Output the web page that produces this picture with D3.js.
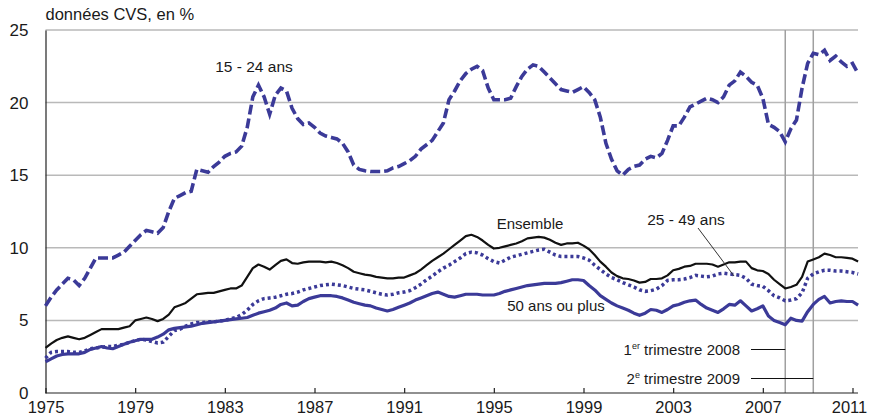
<!DOCTYPE html>
<html>
<head>
<meta charset="utf-8">
<script src="https://cdn.jsdelivr.net/npm/d3@7"></script>
<style>
  html, body { margin: 0; padding: 0; background: #ffffff; }
  svg text { font-family: "Liberation Sans Narrow", "Arial Narrow", "Liberation Sans", sans-serif; fill: #1a1a1a; }
</style>
</head>
<body>
<svg id="chart" width="869" height="418"></svg>
<script>
// ---- Data (quarterly, 1975 T1 .. 2011 T2), taux de chômage en % ----
const startYear = 1975;
const tickYears = ["1975","1979","1983","1987","1991","1995","1999","2003","2007","2011"];
const yTicks = [0, 5, 10, 15, 20, 25];

const jeunes15_24 = [
  6.0, 6.6, 7.1, 7.5,   7.9, 7.8, 7.4, 7.9,   8.6, 9.3, 9.3, 9.3,   9.3, 9.5, 9.7, 10.1,
  10.5, 10.9, 11.2, 11.1,   11.0, 11.4, 12.5, 13.4,   13.6, 13.8, 13.9, 15.4,   15.3, 15.2, 15.6, 15.9,
  16.3, 16.5, 16.6, 17.0,   18.3, 20.4, 21.2, 20.4,   19.2, 20.5, 21.0, 20.8,   19.6, 18.9, 18.5, 18.6,
  18.3, 17.9, 17.7, 17.6,   17.5, 17.2, 16.6, 15.7,   15.4, 15.3, 15.25, 15.25,   15.25, 15.3, 15.5, 15.6,
  15.8, 16.0, 16.3, 16.8,   17.1, 17.4, 18.0, 18.6,   20.2, 20.8, 21.5, 22.0,   22.3, 22.5, 22.2, 21.0,
  20.2, 20.2, 20.2, 20.3,   21.1, 21.8, 22.3, 22.6,   22.5, 22.1, 21.7, 21.3,   20.9, 20.8, 20.7, 20.9,
  21.1, 20.7, 20.2, 19.0,   17.2, 16.1, 15.3, 15.0,   15.4, 15.6, 15.7, 16.1,   16.3, 16.2, 16.5, 17.4,
  18.4, 18.4, 19.0, 19.7,   19.9, 20.1, 20.3, 20.2,   20.0, 20.4, 21.2, 21.5,   22.1, 21.8, 21.4, 21.2,
  20.3, 18.5, 18.3, 18.0,   17.3, 18.2, 18.8, 21.0,   22.7, 23.4, 23.3, 23.6,   22.9, 23.2, 22.8, 22.5,
  22.7, 22.0
];

const ensemble = [
  3.1, 3.4, 3.65, 3.8,   3.9, 3.8, 3.7, 3.8,   4.0, 4.2, 4.4, 4.4,   4.4, 4.4, 4.5, 4.6,
  5.0, 5.1, 5.2, 5.1,   4.95, 5.1, 5.4, 5.9,   6.05, 6.2, 6.5, 6.8,   6.85, 6.9, 6.9, 7.0,
  7.1, 7.2, 7.2, 7.4,   8.0, 8.6, 8.85, 8.7,   8.5, 8.8, 9.1, 9.2,   8.95, 8.9, 9.0, 9.05,
  9.05, 9.05, 9.0, 9.05,   8.95, 8.8, 8.6, 8.35,   8.25, 8.15, 8.1, 8.0,   7.95, 7.9, 7.9, 7.95,
  7.95, 8.1, 8.25, 8.5,   8.8, 9.1, 9.35, 9.6,   9.9, 10.2, 10.5, 10.8,   10.9, 10.75, 10.5, 10.2,
  9.95, 10.0, 10.1, 10.2,   10.3, 10.45, 10.65, 10.7,   10.75, 10.7, 10.55, 10.35,   10.2, 10.3, 10.3, 10.35,
  10.15, 9.9, 9.5, 9.05,   8.7, 8.3, 8.05, 7.9,   7.85, 7.75, 7.6, 7.65,   7.85, 7.85, 7.9, 8.1,
  8.45, 8.55, 8.7, 8.75,   8.9, 8.9, 8.9, 8.85,   8.7, 8.85, 9.0, 9.0,   9.05, 9.05, 8.6, 8.45,
  8.4, 8.2, 7.8, 7.5,   7.2, 7.3, 7.45, 8.0,   9.05, 9.2, 9.35, 9.6,   9.5, 9.35, 9.35, 9.3,
  9.25, 9.05
];

const adultes25_49 = [
  2.4, 2.8, 2.85, 2.85,   2.85, 2.8, 2.8, 2.9,   3.05, 3.1, 3.15, 3.2,   3.2, 3.3, 3.35, 3.5,
  3.6, 3.7, 3.65, 3.55,   3.45, 3.5, 3.9, 4.3,   4.4, 4.6, 4.75, 4.85,   4.85, 4.9, 4.9, 4.95,
  5.0, 5.1, 5.2, 5.4,   5.7, 6.1, 6.35, 6.5,   6.55, 6.6, 6.7, 6.8,   6.85, 6.95, 7.1, 7.2,
  7.3, 7.4, 7.45, 7.5,   7.45, 7.4, 7.3, 7.2,   7.15, 7.1, 7.0, 6.9,   6.8, 6.75, 6.8, 6.9,
  6.95, 7.05, 7.25, 7.5,   7.8, 8.05, 8.35, 8.6,   8.8, 9.05, 9.3, 9.6,   9.7, 9.65, 9.5, 9.25,
  9.05, 8.95, 9.15, 9.35,   9.45, 9.55, 9.65, 9.75,   9.85, 9.9, 9.7, 9.5,   9.4, 9.4, 9.4, 9.4,
  9.3, 9.15, 8.8, 8.5,   8.2, 7.95, 7.8, 7.6,   7.45, 7.3, 7.1, 7.0,   7.05, 7.15, 7.4, 7.75,
  7.8, 7.8, 7.85, 7.95,   8.1, 8.05, 8.0, 8.05,   8.2, 8.25, 8.2, 8.15,   8.1, 7.9, 7.5, 7.4,
  7.35, 7.05, 6.7, 6.55,   6.35, 6.4, 6.5, 6.9,   7.9, 8.2, 8.35, 8.45,   8.45, 8.4, 8.4, 8.35,
  8.3, 8.2
];

const seniors50plus = [
  2.15, 2.35, 2.55, 2.65,   2.7, 2.7, 2.7, 2.8,   3.0, 3.1, 3.2, 3.1,   3.05, 3.2, 3.35, 3.5,
  3.6, 3.7, 3.7, 3.7,   3.85, 4.05, 4.35, 4.45,   4.5, 4.55, 4.6, 4.7,   4.8, 4.85, 4.9, 4.95,
  5.0, 5.05, 5.1, 5.15,   5.2, 5.35, 5.5, 5.6,   5.7, 5.85, 6.1, 6.2,   6.0, 6.05, 6.3, 6.5,
  6.6, 6.7, 6.7, 6.7,   6.65, 6.55, 6.4, 6.25,   6.15, 6.05, 6.0, 5.85,   5.75, 5.65, 5.75, 5.9,
  6.05, 6.2, 6.4, 6.55,   6.7, 6.85, 6.95, 6.8,   6.65, 6.6, 6.7, 6.8,   6.8, 6.8, 6.75, 6.75,
  6.75, 6.85, 7.0, 7.1,   7.2, 7.3, 7.4, 7.45,   7.5, 7.55, 7.55, 7.55,   7.6, 7.7, 7.8, 7.8,
  7.75, 7.4, 7.1, 6.7,   6.45, 6.2, 6.0, 5.85,   5.7, 5.5, 5.35, 5.5,   5.75, 5.7, 5.55, 5.75,
  6.0, 6.1, 6.25, 6.35,   6.4, 6.1, 5.85, 5.7,   5.55, 5.8, 6.1, 6.05,   6.35, 6.0, 5.65, 5.8,
  6.0, 5.3, 5.0, 4.85,   4.7, 5.15, 5.0, 4.95,   5.6, 6.1, 6.45, 6.65,   6.2, 6.3, 6.35, 6.3,
  6.3, 6.05
];

const seriesLabels = ["15 - 24 ans", "Ensemble", "25 - 49 ans", "50 ans ou plus"];
const eventLabels = [["1", "er", " trimestre 2008"], ["2", "e", " trimestre 2009"]];
const eventTimes = [2008.0, 2009.25];
const yAxisTitle = "données CVS, en %";

// ---- Drawing ----
const svg = d3.select("#chart");
const blue = "#3b3a98";
const mLeft = 45.5, mRight = 858, mTop = 30, mBottom = 393;
const narrow = '"Liberation Sans Narrow", "Arial Narrow", sans-serif';

const x = d3.scaleLinear().domain([1975, 2011]).range([mLeft, 852.5]);
const y = d3.scaleLinear().domain([0, 25]).range([mBottom, mTop]);
const qTime = i => startYear + i / 4;

// gridlines
svg.append("g").selectAll("line")
  .data(yTicks.filter(v => v > 0))
  .join("line")
  .attr("x1", mLeft).attr("x2", mRight)
  .attr("y1", d => y(d)).attr("y2", d => y(d))
  .attr("stroke", "#b9b9b9").attr("stroke-width", 1.5);

// event vertical lines
svg.append("g").selectAll("line")
  .data(eventTimes)
  .join("line")
  .attr("x1", d => x(d)).attr("x2", d => x(d))
  .attr("y1", mTop).attr("y2", mBottom)
  .attr("stroke", "#a0a0a0").attr("stroke-width", 1.5);

// y axis
const yAxis = d3.axisLeft(y).tickValues(yTicks).tickSize(0).tickPadding(17);
const gy = svg.append("g").attr("transform", `translate(${mLeft},0)`).call(yAxis);
gy.select(".domain").attr("stroke", "#222").attr("stroke-width", 1.2);
gy.selectAll("text").attr("font-size", 17).attr("fill", "#1a1a1a").style("font-family", narrow);

// x axis
const xAxis = d3.axisBottom(x).tickValues(tickYears.map(Number)).tickFormat(d3.format("d"))
  .tickSizeInner(-5).tickSizeOuter(0).tickPadding(8);
const gx = svg.append("g").attr("transform", `translate(0,${mBottom})`).call(xAxis);
gx.select(".domain").attr("d", `M${mLeft},0H${mRight}`).attr("stroke", "#222").attr("stroke-width", 1.2);
gx.selectAll(".tick line").attr("stroke", "#222").attr("stroke-width", 1.2);
gx.selectAll("text").attr("font-size", 16.5).attr("fill", "#1a1a1a").style("font-family", narrow)
  .attr("dx", d => d === 2011 ? -3.5 : 0);

// lines
const line = d3.line().x((d, i) => x(qTime(i))).y(d => y(d)).curve(d3.curveLinear);

svg.append("path").datum(seniors50plus).attr("d", line)
  .attr("fill", "none").attr("stroke", blue).attr("stroke-width", 3.2)
  .attr("stroke-linejoin", "round");
svg.append("path").datum(adultes25_49).attr("d", line)
  .attr("fill", "none").attr("stroke", blue).attr("stroke-width", 3.5)
  .attr("stroke-dasharray", "3,3");
svg.append("path").datum(ensemble).attr("d", line)
  .attr("fill", "none").attr("stroke", "#111").attr("stroke-width", 2.2)
  .attr("stroke-linejoin", "round");
svg.append("path").datum(jeunes15_24).attr("d", line)
  .attr("fill", "none").attr("stroke", blue).attr("stroke-width", 3.6)
  .attr("stroke-dasharray", "10,4");

// texts
svg.append("text").attr("x", mLeft).attr("y", 20).attr("font-size", 16.5).text(yAxisTitle);

const lbl = (txt, xx, yy, size, anchor) => svg.append("text")
  .attr("x", xx).attr("y", yy).attr("font-size", size)
  .attr("text-anchor", anchor || "middle").text(txt);

lbl(seriesLabels[0], 254, 72, 15.5);
lbl(seriesLabels[1], 530, 229, 15);
lbl(seriesLabels[2], 686, 225, 15.5);
lbl(seriesLabels[3], 556, 311, 15);

// pointer for 25 - 49 ans
svg.append("line").attr("x1", 698).attr("y1", 228).attr("x2", 734).attr("y2", 276)
  .attr("stroke", "#333").attr("stroke-width", 1);

// event labels
const evY = [355, 384];
eventLabels.forEach((parts, k) => {
  const tx = svg.append("text").attr("x", 740).attr("y", evY[k])
    .attr("font-size", 15).attr("text-anchor", "end");
  tx.append("tspan").text(parts[0]);
  tx.append("tspan").attr("font-size", 9).attr("dy", -6).text(parts[1]);
  tx.append("tspan").attr("dy", 6).text(parts[2]);
  svg.append("line").attr("x1", 751).attr("x2", x(eventTimes[k]))
    .attr("y1", evY[k] - 5.5).attr("y2", evY[k] - 5.5)
    .attr("stroke", "#111").attr("stroke-width", 1.2);
});
</script>
</body>
</html>
